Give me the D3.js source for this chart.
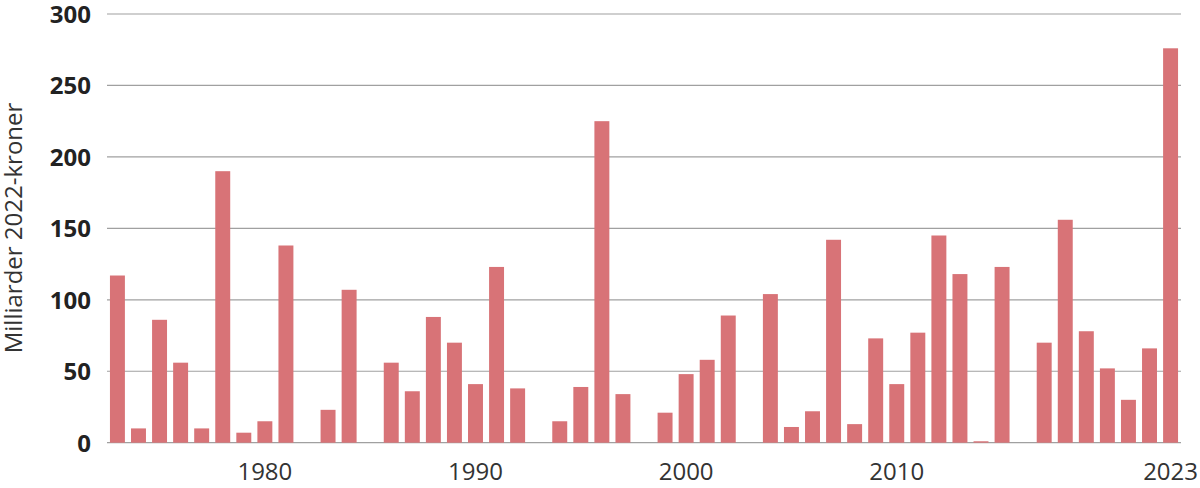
<!DOCTYPE html>
<html>
<head>
<meta charset="utf-8">
<script src="https://cdn.jsdelivr.net/npm/d3@7"></script>
<style>
  html, body { margin: 0; padding: 0; background: #fff; }
  svg { display: block; font-family: "Open Sans", sans-serif; }
</style>
</head>
<body>
<svg id="chart" width="1200" height="488"></svg>
<script>
const years = d3.range(1973, 2024);
const values = [117, 10, 86, 56, 10, 190, 7, 15, 138, 0,
                23, 107, 0, 56, 36, 88, 70, 41, 123, 38,
                0, 15, 39, 225, 34, 0, 21, 48, 58, 89,
                0, 104, 11, 22, 142, 13, 73, 41, 77, 145,
                118, 1, 123, 0, 70, 156, 78, 52, 30, 66,
                276];
const yTicks = [0, 50, 100, 150, 200, 250, 300];
const xTickLabels = [1980, 1990, 2000, 2010, 2023];
const yTitle = "Milliarder 2022-kroner";

const data = years.map((yr, i) => ({year: yr, value: values[i]}));

const svg = d3.select("#chart");
const plotL = 107, plotR = 1181, plotT = 14, plotB = 442.7;

const x = d3.scaleBand().domain(years).range([plotL, plotR])
  .paddingInner(0.29).paddingOuter(0.14);
const y = d3.scaleLinear().domain([0, 300]).range([plotB, plotT]);

// gridlines
svg.append("g").selectAll("line").data(yTicks).join("line")
  .attr("x1", plotL).attr("x2", plotR)
  .attr("y1", d => y(d)).attr("y2", d => y(d))
  .attr("stroke", "#a0a0a0").attr("stroke-width", 1.2);

// bars
svg.append("g").selectAll("rect").data(data).join("rect")
  .attr("x", d => x(d.year))
  .attr("width", x.bandwidth())
  .attr("y", d => y(d.value))
  .attr("height", d => y(0) - y(d.value))
  .attr("fill", "#d87377");

// y axis labels
const yAxis = d3.axisLeft(y).tickValues(yTicks).tickSize(0).tickPadding(0);
const gy = svg.append("g").attr("transform", "translate(91,0)").call(yAxis);
gy.select(".domain").remove();
gy.selectAll("text")
  .attr("dy", "0.35em")
  .attr("font-family", "Open Sans").attr("font-weight", "bold")
  .attr("font-size", 24).attr("fill", "#222");

// x axis labels
const xAxis = d3.axisBottom(x).tickValues(xTickLabels).tickSize(0).tickPadding(0);
const gx = svg.append("g").attr("transform", `translate(0,${plotB})`).call(xAxis);
gx.select(".domain").remove();
gx.selectAll("text")
  .attr("dy", null).attr("y", 37)
  .attr("font-family", "Open Sans").attr("font-size", 24).attr("fill", "#333");

// y title
svg.append("text")
  .attr("transform", "translate(22,228) rotate(-90)")
  .attr("text-anchor", "middle")
  .attr("font-family", "Open Sans").attr("font-size", 24).attr("fill", "#333")
  .text(yTitle);
</script>
</body>
</html>
